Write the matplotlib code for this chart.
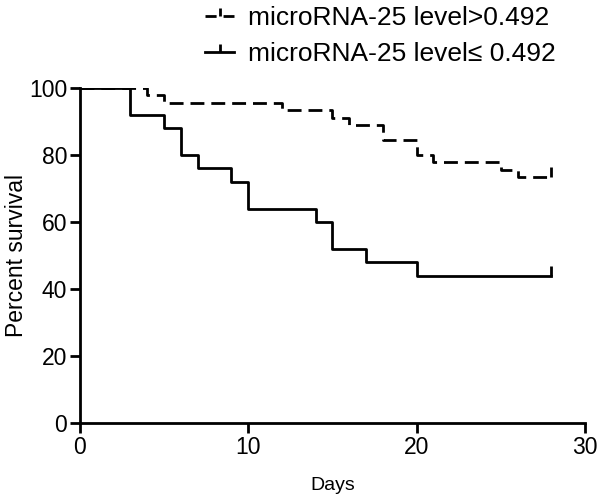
import matplotlib
matplotlib.use("Agg")
import matplotlib.pyplot as plt
from matplotlib.path import Path
from matplotlib.lines import Line2D

plt.rcParams['font.family'] = ['Liberation Sans', 'DejaVu Sans']

# Kaplan-Meier steps
high_days = [0, 4, 5, 12, 15, 16, 18, 20, 21, 25, 26, 28]
high_surv = [100, 97.8, 95.6, 93.3, 91.1, 88.9, 84.4, 80.0, 77.8, 75.6, 73.3, 73.3]
low_days = [0, 3, 5, 6, 7, 9, 10, 14, 15, 17, 20, 28]
low_surv = [100, 92, 88, 80, 76, 72, 64, 60, 52, 48, 44, 44]

labels = ["microRNA-25 level>0.492", "microRNA-25 level\u2264 0.492"]
x_ticks = [0, 10, 20, 30]
y_ticks = [0, 20, 40, 60, 80, 100]

# censor tick: vertical stroke pointing up from the line
censor = Path([(0, 0), (0, 1)], [Path.MOVETO, Path.LINETO])

fig = plt.figure(figsize=(6, 5), dpi=100)
ax = fig.add_axes([0.133, 0.154, 0.842, 0.670])

lw = 2.0
dash = (0, (5, 2.5))
ax.step(high_days, high_surv, where="post", color="black", lw=lw,
        linestyle=dash)
ax.plot(high_days[-1], high_surv[-1], marker=censor, markersize=14,
        color="black", mew=lw)
ax.step(low_days, low_surv, where="post", color="black", lw=lw)
ax.plot(low_days[-1], low_surv[-1], marker=censor, markersize=14,
        color="black", mew=lw)

ax.set_xlim(0, 30)
ax.set_ylim(0, 100)
ax.set_xticks(x_ticks)
ax.set_yticks(y_ticks)
for s in ["top", "right"]:
    ax.spines[s].set_visible(False)
for s in ["left", "bottom"]:
    ax.spines[s].set_linewidth(2)
ax.tick_params(direction="out", length=7, width=2, labelsize=16.5, pad=2)
ax.set_xlabel("Days", fontsize=14, labelpad=13)
ax.set_ylabel("Percent survival", fontsize=16.5, labelpad=1)

handles = [
    Line2D([], [], color="black", lw=lw, linestyle=(0, (4, 2.5)), marker=censor,
           markersize=11, mew=lw, markevery=[1]),
    Line2D([], [], color="black", lw=lw, marker=censor, markersize=11,
           mew=lw, markevery=[1]),
]
for h in handles:
    h.set_xdata([0, 0.5, 1])
    h.set_ydata([0, 0, 0])
fig.legend(handles, labels, loc="upper right", bbox_to_anchor=(0.965, 1.035),
           frameon=False, fontsize=19, handlelength=1.1, handletextpad=0.5,
           labelspacing=0.45)

fig.savefig("out.png", dpi=100)
